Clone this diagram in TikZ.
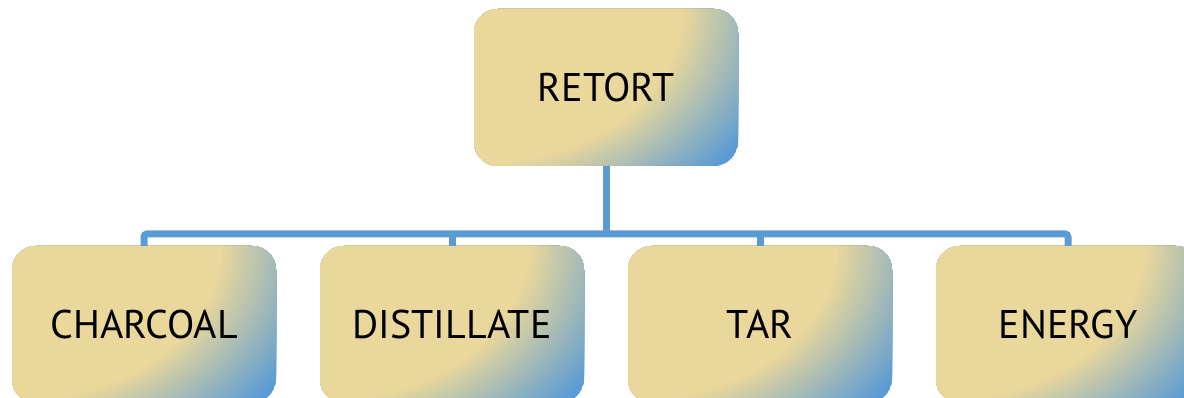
\documentclass[tikz,border=0pt]{standalone}
\usepackage{fontspec}
\newfontfamily\boxfont{PT Sans}
\definecolor{beigeg}{HTML}{E9D79B}
\definecolor{blueg}{HTML}{5B9BD5}
\definecolor{connblue}{HTML}{5B9BD5}
\tikzset{
  gbox/.style={rounded corners=24pt, minimum width=264pt, minimum height=157pt, inner sep=0pt,
    font=\boxfont\fontsize{40}{48}\selectfont, text=black,
    path picture={
      \fill[blueg] (path picture bounding box.south west) rectangle (path picture bounding box.north east);
      \foreach \k in {36,35,...,0} {
        \pgfmathsetmacro\rr{0.98+0.52*\k/36}
        \pgfmathsetmacro\pp{100*\k/36}
        \fill[blueg!\pp!beigeg] (path picture bounding box.north west)
          ellipse [x radius=\rr*215pt, y radius=\rr*160pt];
      }
    }},
  conn/.style={draw=connblue, line width=7pt, rounded corners=3pt}
}
\begin{document}
\begin{tikzpicture}[x=1pt,y=1pt]
\useasboundingbox (0,0) rectangle (1184,398);
\coordinate (bus) at (606,164);
\node[gbox] (top) at (606,310.5) {RETORT};
\node[gbox] (b1) at (144,73.5) {CHARCOAL};
\node[gbox] (b2) at (452,73.5) {DISTILLATE};
\node[gbox] (b3) at (760,73.5) {TAR};
\node[gbox] (b4) at (1068,73.5) {ENERGY};
\draw[conn] (top.south) -- (top.south |- bus);
\draw[conn] (b1.north) -- (b1.north |- bus) -- (b4.north |- bus) -- (b4.north);
\draw[conn] (b2.north) -- (b2.north |- bus);
\draw[conn] (b3.north) -- (b3.north |- bus);
\end{tikzpicture}
\end{document}
